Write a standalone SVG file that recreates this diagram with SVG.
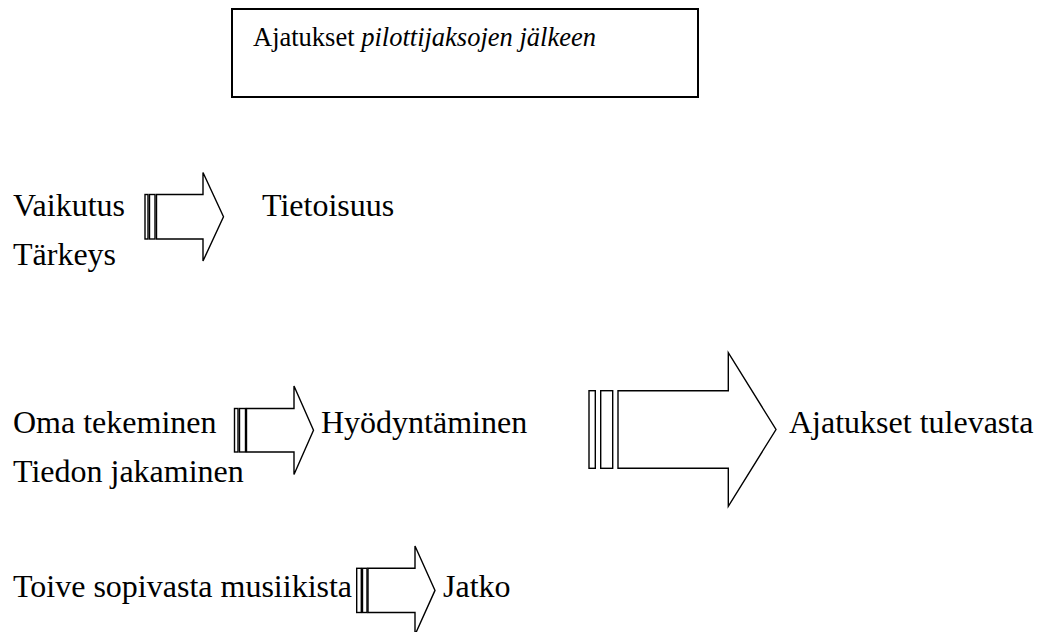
<svg xmlns="http://www.w3.org/2000/svg" width="1040" height="632" viewBox="0 0 1040 632">
<style>
.t{font-family:"Liberation Serif","Times New Roman",serif;font-size:32px;fill:#000}
.bt{font-family:"Liberation Serif","Times New Roman",serif;font-size:26.5px;fill:#000}
.s{fill:#fff;stroke:#000;stroke-width:1.4;stroke-linejoin:miter}
</style>
<rect width="1040" height="632" fill="#fff"/>
<g id="title">
<rect x="232" y="9" width="466" height="88" fill="#fff" stroke="#000" stroke-width="2"/>
<text class="bt" x="253" y="46">Ajatukset <tspan font-style="italic">pilottijaksojen jälkeen</tspan></text>
</g>
<g id="vaikutus"><text class="t" x="13" y="216">Vaikutus</text></g>
<g id="tarkeys"><text class="t" x="13" y="265">Tärkeys</text></g>
<g id="tietoisuus"><text class="t" x="262" y="216">Tietoisuus</text></g>
<g id="oma"><text class="t" x="13" y="433">Oma tekeminen</text></g>
<g id="tiedon"><text class="t" x="13" y="482">Tiedon jakaminen</text></g>
<g id="hyodyntaminen"><text class="t" x="321" y="433">Hyödyntäminen</text></g>
<g id="tulevasta"><text class="t" x="789" y="433">Ajatukset tulevasta</text></g>
<g id="toive"><text class="t" x="13" y="597">Toive sopivasta musiikista</text></g>
<g id="jatko"><text class="t" x="443" y="597">Jatko</text></g>
<g id="connectors">
<g id="arrow1">
<rect class="s" x="145" y="194.5" width="3" height="44.5"/>
<rect class="s" x="149.5" y="194.5" width="5.5" height="44.5"/>
<polygon class="s" points="156.5,194.5 203,194.5 203,172.5 223.5,216.75 203,261 203,239 156.5,239"/>
</g>
<g id="arrow2">
<rect class="s" x="234.5" y="408.5" width="3.5" height="43.5"/>
<rect class="s" x="239.5" y="408.5" width="6" height="43.5"/>
<polygon class="s" points="246.5,408.5 294,408.5 294,386 313.5,430.25 294,474.5 294,452 246.5,452"/>
</g>
<g id="arrow3">
<rect class="s" x="589" y="390.7" width="6.3" height="77.6"/>
<rect class="s" x="600.7" y="390.7" width="12" height="77.6"/>
<polygon class="s" points="618,390.7 728.3,390.7 728.3,352.7 776,429.5 728.3,506.3 728.3,468.3 618,468.3"/>
</g>
<g id="arrow4">
<rect class="s" x="356.7" y="568.3" width="4.6" height="44.2"/>
<rect class="s" x="362.5" y="568.3" width="4.5" height="44.2"/>
<polygon class="s" points="368,568.3 415,568.3 415,546 435,590.4 415,634.8 415,612.5 368,612.5"/>
</g>
</g>
</svg>
